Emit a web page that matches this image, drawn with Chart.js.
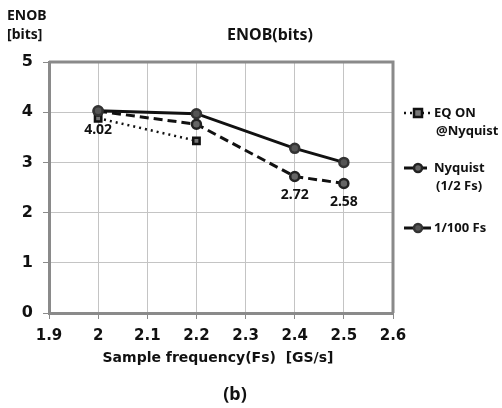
<!DOCTYPE html>
<html>
<head>
<meta charset="utf-8">
<script src="https://cdn.jsdelivr.net/npm/chart.js@4.4.1/dist/chart.umd.min.js"></script>
<style>
  html, body { margin: 0; padding: 0; background: #fff; }
  #wrap { width: 502px; height: 408px; position: relative; }
</style>
</head>
<body>
<div id="wrap"><canvas id="enobChart" width="502" height="408"></canvas></div>
<script>
// data
const eqFreq = [2, 2.2];
const eqOn = [3.88, 3.43];
const freqs = [2, 2.2, 2.4, 2.5];
const nyquist = [4.02, 3.76, 2.72, 2.58];
const fs100 = [4.03, 3.97, 3.28, 3.0];
const nyqLabels = ['4.02', '', '2.72', '2.58'];

const xTicks = [1.9, 2, 2.1, 2.2, 2.3, 2.4, 2.5, 2.6];
const yTicks = [0, 1, 2, 3, 4, 5];

const FONT = '"Noto Sans", "DejaVu Sans", sans-serif';
const WIDE = '"DejaVu Sans", sans-serif';

const toXY = (xs, ys) => xs.map((x, i) => ({ x: x, y: ys[i] }));

// extra text, box edges, legend and value labels
const extras = {
    id: 'extras',
    afterDraw(chart) {
        const ctx = chart.ctx;
        const a = chart.chartArea;
        const xs = chart.scales.x, ys = chart.scales.y;
        ctx.save();

        // top and right edges of plot box
        ctx.strokeStyle = '#8a8a8a';
        ctx.lineWidth = 3;
        ctx.beginPath();
        ctx.moveTo(a.left, a.top);
        ctx.lineTo(a.right, a.top);
        ctx.lineTo(a.right, a.bottom);
        ctx.stroke();

        ctx.fillStyle = '#111';
        ctx.textBaseline = 'middle';

        // titles
        ctx.font = 'bold 16px ' + FONT;
        ctx.textAlign = 'center';
        ctx.fillText('ENOB(bits)', 270, 35);
        ctx.font = 'bold 14px ' + FONT;
        ctx.textAlign = 'left';
        ctx.fillText('ENOB', 7, 16);
        ctx.fillText('[bits]', 7, 35);
        ctx.textAlign = 'center';
        ctx.font = 'bold 14px ' + WIDE;
        ctx.fillText('Sample frequency(Fs)  [GS/s]', 218, 358);
        ctx.font = 'bold 18px ' + FONT;
        ctx.fillText('(b)', 235, 395);

        // value labels for Nyquist series
        ctx.font = 'bold 14px ' + FONT;
        nyqLabels.forEach((t, i) => {
            if (!t) return;
            const px = xs.getPixelForValue(freqs[i]);
            const py = ys.getPixelForValue(nyquist[i]);
            ctx.fillText(t, px, py + 19);
        });

        // legend
        const items = [
            { ds: 0, lines: ['EQ ON', '@Nyquist'], y: 113 },
            { ds: 1, lines: ['Nyquist', '(1/2 Fs)'], y: 168 },
            { ds: 2, lines: ['1/100 Fs'], y: 228 }
        ];
        items.forEach(it => {
            const d = chart.data.datasets[it.ds];
            ctx.strokeStyle = '#111';
            ctx.lineWidth = d.borderWidth;
            ctx.setLineDash(d.borderDash || []);
            ctx.beginPath();
            ctx.moveTo(404, it.y);
            ctx.lineTo(431, it.y);
            ctx.stroke();
            ctx.setLineDash([]);
            const r = d.pointRadius - 0.5;
            ctx.fillStyle = d.pointBackgroundColor;
            ctx.strokeStyle = d.pointBorderColor;
            ctx.lineWidth = d.pointBorderWidth;
            ctx.beginPath();
            if (d.pointStyle === 'rect') {
                ctx.rect(418 - r, it.y - r, r * 2, r * 2);
            } else {
                ctx.arc(418, it.y, r, 0, Math.PI * 2);
            }
            ctx.fill();
            ctx.stroke();
            ctx.fillStyle = '#111';
            ctx.font = 'bold 13px ' + FONT;
            ctx.textAlign = 'left';
            it.lines.forEach((ln, k) => {
                ctx.fillText(ln, k === 0 ? 434 : 436, it.y + k * 18);
            });
        });
        ctx.restore();
    }
};

const ctx = document.getElementById('enobChart').getContext('2d');
const enobChart = new Chart(ctx, {
    type: 'line',
    data: {
        datasets: [
            {
                label: 'EQ ON @Nyquist',
                data: toXY(eqFreq, eqOn),
                borderColor: '#111',
                borderWidth: 2.5,
                borderDash: [2, 4],
                pointStyle: 'rect',
                pointRadius: 4.5,
                pointBorderWidth: 2.5,
                pointBorderColor: '#111',
                pointBackgroundColor: '#777',
                order: 3
            },
            {
                label: 'Nyquist (1/2 Fs)',
                data: toXY(freqs, nyquist),
                borderColor: '#111',
                borderWidth: 3,
                borderDash: [9, 5],
                pointStyle: 'circle',
                pointRadius: 4.5,
                pointBorderWidth: 2.5,
                pointBorderColor: '#222',
                pointBackgroundColor: '#666',
                order: 2
            },
            {
                label: '1/100 Fs',
                data: toXY(freqs, fs100),
                borderColor: '#111',
                borderWidth: 3,
                pointStyle: 'circle',
                pointRadius: 4.5,
                pointBorderWidth: 2.5,
                pointBorderColor: '#333',
                pointBackgroundColor: '#555',
                order: 1
            }
        ]
    },
    options: {
        responsive: false,
        animation: false,
        layout: { padding: { left: 0, top: 62, right: 109, bottom: 0 } },
        plugins: {
            legend: { display: false },
            title: { display: false },
            tooltip: { enabled: false }
        },
        scales: {
            x: {
                type: 'linear',
                min: 1.9,
                max: 2.6,
                afterBuildTicks: s => { s.ticks = xTicks.map(v => ({ value: v })); },
                afterFit: s => { s.height = 95; },
                ticks: {
                    color: '#111',
                    font: { family: WIDE, size: 15, weight: 'bold' },
                    padding: 8,
                    maxRotation: 0,
                    callback: v => String(Math.round(v * 10) / 10)
                },
                grid: { color: '#c4c4c4', lineWidth: 1, tickLength: 6, tickColor: '#8a8a8a' },
                border: { color: '#8a8a8a', width: 3 }
            },
            y: {
                min: 0,
                max: 5,
                afterBuildTicks: s => { s.ticks = yTicks.map(v => ({ value: v })); },
                afterFit: s => { s.width = 49; },
                ticks: {
                    color: '#111',
                    font: { family: WIDE, size: 16, weight: 'bold' },
                    padding: 10
                },
                grid: { color: '#c4c4c4', lineWidth: 1, tickLength: 6, tickColor: '#8a8a8a' },
                border: { color: '#8a8a8a', width: 3 }
            }
        }
    },
    plugins: [extras]
});
</script>
</body>
</html>
